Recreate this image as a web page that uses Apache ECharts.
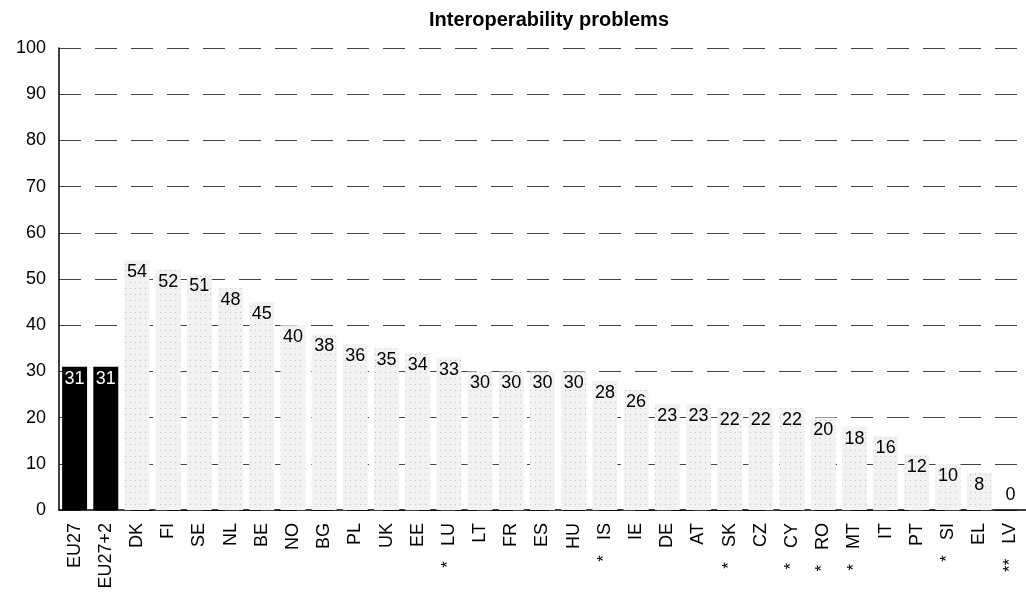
<!DOCTYPE html>
<html><head><meta charset="utf-8">
<script src="https://cdn.jsdelivr.net/npm/echarts@6/dist/echarts.min.js"></script>
<style>html,body{margin:0;padding:0;background:#fff}#c{width:1026px;height:597px}</style>
</head><body><div id="c"></div>
<script>
const categories = ['EU27','EU27+2','DK','FI','SE','NL','BE','NO','BG','PL','UK','EE','LU','LT','FR','ES','HU','IS','IE','DE','AT','SK','CZ','CY','RO','MT','IT','PT','SI','EL','LV'];
const footnotes = ['','','','','','','','','','','','','*','','','','','*','','','','*','','*','*','*','','','*','','**'];
const values = [31,31,54,52,51,48,45,40,38,36,35,34,33,30,30,30,30,28,26,23,23,22,22,22,20,18,16,12,10,8,0];
const yTicks = [0,10,20,30,40,50,60,70,80,90,100];
const highlighted = ['EU27','EU27+2'];

const font = 'Liberation Sans, Arial, sans-serif';
const chart = echarts.init(document.getElementById('c'));
chart.setOption({
  animation:false,
  title:{text:'Interoperability problems',left:544,top:5,textAlign:'center',
    textStyle:{fontFamily:font,fontSize:20,fontWeight:'bold',color:'#000'}},
  grid:{left:59,right:-13,top:48,bottom:87,containLabel:false},
  xAxis:{type:'category',data:categories,
    axisLine:{lineStyle:{color:'#000',width:1.5}},axisTick:{show:false},
    axisLabel:{rotate:90,interval:0,fontFamily:font,fontSize:18,color:'#000',margin:13,
      formatter:(v,i)=> footnotes[i] ? '{a|'+footnotes[i]+'}   '+v : v,
      rich:{a:{fontSize:17,fontFamily:font,color:'#000',verticalAlign:'top'}}}},
  yAxis:{type:'value',min:yTicks[0],max:yTicks[yTicks.length-1],interval:10,
    axisLine:{show:true,lineStyle:{color:'#000',width:1.5}},axisTick:{show:false},
    axisLabel:{fontFamily:font,fontSize:18,color:'#000',margin:13},
    splitLine:{lineStyle:{color:'#444',type:[22,14],width:1}}},
  series:[{type:'bar',barCategoryGap:'20%',
    data:values.map((v,i)=>{
      const hi = highlighted.includes(categories[i]);
      return {value:v,
        itemStyle: hi ? {color:'#000'} : {color:'#f2f2f2',
          decal:{symbol:'rect',symbolSize:0.7,color:'rgba(0,0,0,0.6)',dashArrayX:[1,4],dashArrayY:[1,5],rotation:0}},
        label:{color: hi ? '#fff' : '#000', position: v === 0 ? 'top' : 'insideTop', distance: v === 0 ? 6 : 3}};
    }),
    label:{show:true,position:'insideTop',distance:3,fontFamily:font,fontSize:18}
  }]
});
</script></body></html>
